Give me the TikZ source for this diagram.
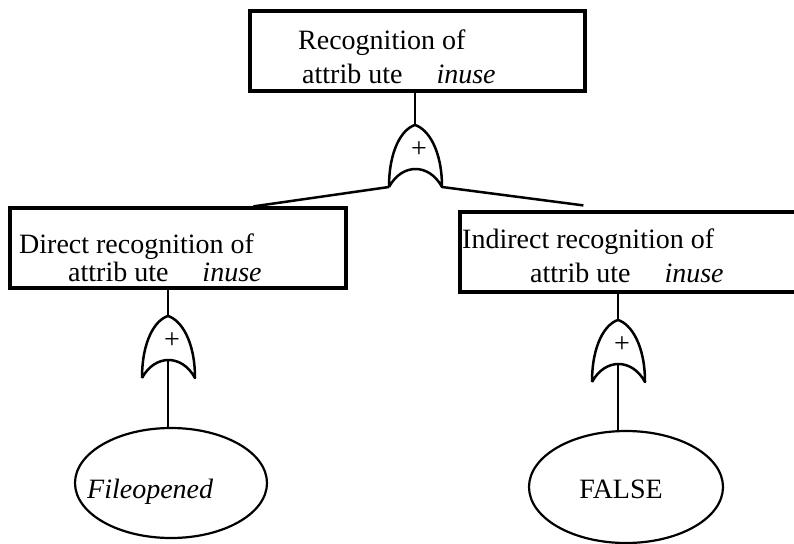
\documentclass[tikz,border=0pt]{standalone}
\usepackage{fontspec}
\setmainfont{Liberation Serif}
\usepackage{tikz}
\usetikzlibrary{shapes}
\tikzstyle{event}=[rectangle,draw=black,line width=3.200,minimum height=80,inner sep=0pt]
\tikzstyle{basic}=[ellipse,draw=black,line width=2.200,inner sep=0pt]
\tikzstyle{txt}=[inner sep=0pt,anchor=base west,font=\fontsize{28}{32}\selectfont]
\tikzstyle{plus}=[inner sep=0pt,font=\fontsize{28}{32}\selectfont]
\tikzstyle{simple}=[-,line width=2.500]
\tikzstyle{gateline}=[-,line width=2.500,line join=round]
\tikzset{orgate/.pic={
	\draw [style=gateline] (-26,62) .. controls (-26,25) and (-13,4) .. (0,0) .. controls (13,4) and (27,25) .. (27,62) .. controls (14,38) and (-13,38) .. (-26,62);
	\node [style=plus] at (4,25) {+};
	\coordinate (-in) at (0,0);
	\coordinate (-out) at (0,44);
	\coordinate (-l) at (-26,62);
	\coordinate (-r) at (27,62);
}}

\begin{document}
\begin{tikzpicture}[x=1pt,y=-1pt]
	\useasboundingbox (0,0) rectangle (794,543);
	\clip (0,0) rectangle (794,543);
	% boxes
	\node [style=event, minimum width=335] (top) at (417.5,51) {};
	\node [style=event, minimum width=336] (direct) at (178,248) {};
	\node [style=event, minimum width=350] (indirect) at (635,252) {};
	\node [style=txt] (top1) at (298,49) {Recognition of};
	\node [style=txt] (top2) at (302,83) {attrib ute\hspace{34pt}\textit{inuse}};
	\node [style=txt] (direct1) at (19,253) {Direct recognition of};
	\node [style=txt] (direct2) at (68,281) {attrib ute\hspace{34pt}\textit{inuse}};
	\node [style=txt] (indirect1) at (462,248) {Indirect recognition of};
	\node [style=txt] (indirect2) at (530,282) {attrib ute\hspace{34pt}\textit{inuse}};
	% basic events
	\node [style=basic, minimum width=192, minimum height=110] (opened) at (171,483) {};
	\node [style=txt] at (87,498) {\textit{Fileopened}};
	\node [style=basic, minimum width=194, minimum height=112] (false) at (626,487) {};
	\node [style=txt, anchor=base] at (621,498) {FALSE};
	% gates
	\pic (g0) at (415,125) {orgate};
	\pic (g1) at (168,316) {orgate};
	\pic (g2) at (618,320) {orgate};
	% edges
	\draw [style=simple] (top.south -| g0-in) to (g0-in);
	\draw [style=simple] (g0-l) to ([xshift=245]direct.north west);
	\draw [style=simple] (g0-r) to ([xshift=125,yshift=5]indirect.north west);
	\draw [style=simple] (direct.south -| g1-in) to (g1-in);
	\draw [style=simple] (g1-out) to (opened.north -| g1-out);
	\draw [style=simple] (indirect.south -| g2-in) to (g2-in);
	\draw [style=simple] (g2-out) to (false.north -| g2-out);
\end{tikzpicture}
\end{document}
